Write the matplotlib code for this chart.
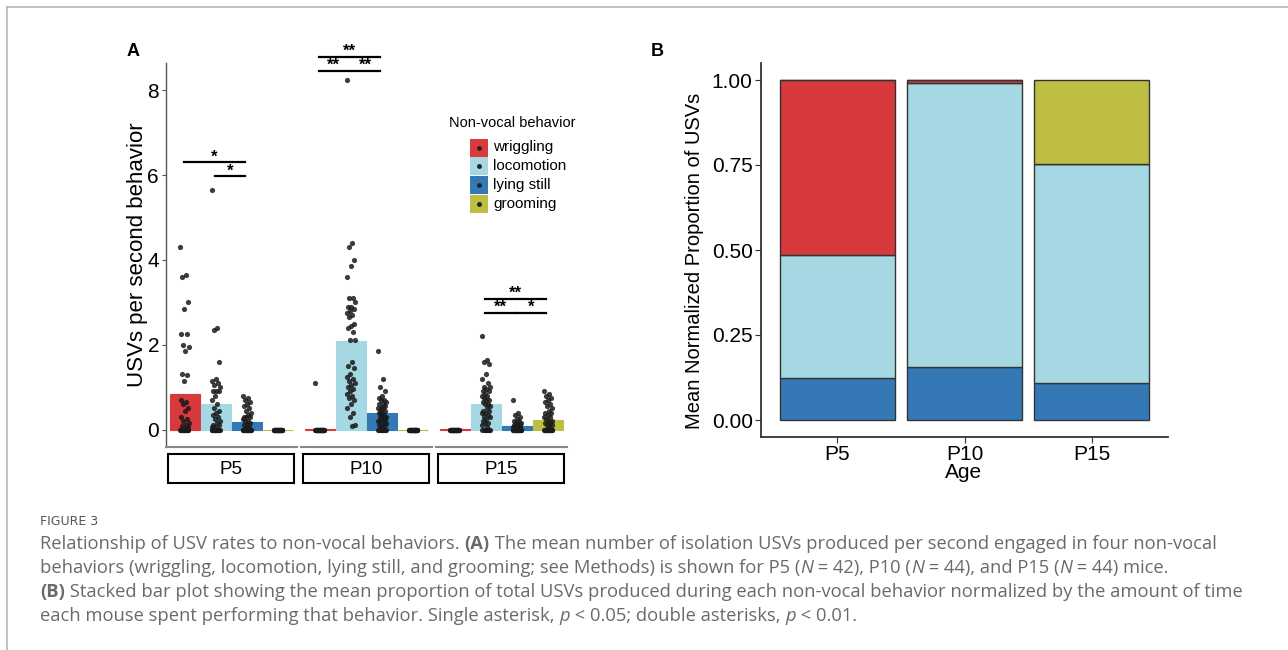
import matplotlib.pyplot as plt
import numpy as np
from matplotlib.patches import Rectangle
from matplotlib.lines import Line2D
from matplotlib.transforms import IdentityTransform

plt.rcParams['font.family'] = ['Liberation Sans', 'DejaVu Sans']

W, H = 1288, 650

ages = ['P5', 'P10', 'P15']
behaviors = ['wriggling', 'locomotion', 'lying still', 'grooming']
colors = ['#D7393D', '#A6D8E4', '#3479B5', '#BDBE43']

# panel A: mean USVs per second of behavior (order: wriggling, locomotion, lying still, grooming)
rate_p5 = [0.85, 0.60, 0.19, 0.0]
rate_p10 = [0.025, 2.08, 0.38, 0.0]
rate_p15 = [0.005, 0.60, 0.08, 0.22]

# individual mice
p5_wriggling = [4.3, 3.65, 3.6, 3.0, 2.85, 2.25, 2.25, 2.0, 1.95, 1.85, 1.3, 1.28, 1.15,
                0.7, 0.65, 0.6, 0.5, 0.45, 0.3, 0.25, 0.2, 0.15, 0.1, 0.08, 0.05] + [0] * 17
p5_locomotion = [5.65, 2.4, 2.35, 1.6, 1.2, 1.15, 1.1, 1.05, 1.0, 0.9, 0.9, 0.9, 0.8, 0.7,
                 0.6, 0.5, 0.45, 0.4, 0.35, 0.3, 0.25, 0.2, 0.15, 0.1, 0.1, 0.05, 0.05] + [0] * 15
p5_lying = [0.8, 0.75, 0.7, 0.65, 0.6, 0.55, 0.5, 0.45, 0.4, 0.35, 0.3, 0.3, 0.3, 0.25,
            0.2, 0.2, 0.15, 0.1, 0.1, 0.05, 0.05] + [0] * 21
p5_grooming = [0] * 42

p10_wriggling = [1.1] + [0] * 43
p10_locomotion = [8.23, 4.4, 4.3, 4.0, 3.85, 3.6, 3.1, 3.1, 3.0, 2.9, 2.9, 2.85, 2.8, 2.75,
                  2.7, 2.65, 2.5, 2.45, 2.4, 2.3, 2.1, 2.1, 1.6, 1.5, 1.45, 1.3, 1.25, 1.2,
                  1.15, 1.1, 1.05, 1.0, 0.95, 0.9, 0.85, 0.8, 0.75, 0.7, 0.6, 0.5, 0.4, 0.3,
                  0.1, 0.08]
p10_lying = [1.85, 1.2, 1.0, 0.9, 0.8, 0.75, 0.7, 0.7, 0.65, 0.6, 0.6, 0.55, 0.5, 0.5, 0.5,
             0.45, 0.45, 0.4, 0.4, 0.35, 0.35, 0.3, 0.3, 0.3, 0.25, 0.25, 0.2, 0.2, 0.2,
             0.15, 0.1, 0.1, 0.1, 0.05] + [0] * 10
p10_grooming = [0] * 44

p15_wriggling = [0] * 44
p15_locomotion = [2.2, 1.65, 1.6, 1.55, 1.3, 1.2, 1.1, 1.0, 1.0, 0.95, 0.9, 0.9, 0.85, 0.8,
                  0.8, 0.75, 0.7, 0.7, 0.65, 0.6, 0.6, 0.55, 0.5, 0.45, 0.45, 0.4, 0.4,
                  0.35, 0.3, 0.3, 0.25, 0.2, 0.15, 0.15, 0.1, 0.05] + [0] * 8
p15_lying = [0.7, 0.4, 0.35, 0.3, 0.25, 0.2, 0.2, 0.15, 0.15, 0.1, 0.1, 0.1, 0.1,
             0.05, 0.05, 0.05, 0.05, 0.05] + [0] * 26
p15_grooming = [0.9, 0.85, 0.8, 0.75, 0.7, 0.65, 0.6, 0.55, 0.5, 0.45, 0.4, 0.4, 0.35, 0.3,
                0.3, 0.25, 0.2, 0.2, 0.15, 0.15, 0.1, 0.1, 0.05] + [0] * 21

# significance brackets: (from behavior #, to behavior #, height, label)
sig_p5 = [(1, 3, 6.3, '*'), (2, 3, 5.97, '*')]
sig_p10 = [(1, 3, 8.78, '**'), (1, 2, 8.45, '**'), (2, 3, 8.45, '**')]
sig_p15 = [(2, 4, 3.08, '**'), (2, 3, 2.75, '**'), (3, 4, 2.75, '*')]

# panel B: mean normalized proportion of USVs
prop_wriggling = [0.515, 0.009, 0.0]
prop_locomotion = [0.36, 0.836, 0.645]
prop_lying = [0.125, 0.155, 0.108]
prop_grooming = [0.0, 0.0, 0.247]

rates = [rate_p5, rate_p10, rate_p15]
dots = [[p5_wriggling, p5_locomotion, p5_lying, p5_grooming],
        [p10_wriggling, p10_locomotion, p10_lying, p10_grooming],
        [p15_wriggling, p15_locomotion, p15_lying, p15_grooming]]
sigs = [sig_p5, sig_p10, sig_p15]


def box(l, t, r, b):
    return [l / W, 1 - b / H, (r - l) / W, (b - t) / H]


fig = plt.figure(figsize=(W / 100, H / 100), dpi=100)

# ---- panel A: three facets
xpos = np.arange(1, 5)
for k, left in enumerate([166, 301, 436]):
    ax = fig.add_axes(box(left, 63, left + 131, 447))
    ax.bar(xpos, rates[k], width=0.95, color=colors, edgecolor=colors, linewidth=0.8, zorder=1)
    for j, vals in enumerate(dots[k]):
        vals = np.array(vals)
        jit = ((np.arange(len(vals)) * 0.618034) % 1 - 0.5) * 0.28
        ax.scatter(xpos[j] + jit, vals, s=14, color='#1a1a1a', alpha=0.85, lw=0, zorder=3)
    for a, b, yv, lab in sigs[k]:
        ax.plot([a - 0.02, b - 0.08], [yv, yv], color='black', lw=1.6, clip_on=False, zorder=4)
        ax.text((a + b) / 2 - 0.05, yv - 0.05, lab, ha='center', va='bottom', fontsize=12,
                fontweight='bold', clip_on=False)
    ax.set_xlim(0.4, 4.6)
    ax.set_ylim(-0.41, 8.64)
    ax.set_xticks([])
    for s in ['top', 'right']:
        ax.spines[s].set_visible(False)
    ax.spines['bottom'].set_color('#888888')
    ax.spines['bottom'].set_linewidth(1.5)
    if k == 0:
        ax.spines['left'].set_color('#555555')
        ax.spines['left'].set_linewidth(1.0)
        ax.set_yticks([0, 2, 4, 6, 8])
        ax.tick_params(axis='y', labelsize=15, length=3, color='#555555', pad=2)
    else:
        ax.spines['left'].set_visible(False)
        ax.set_yticks([])
    ax.patch.set_alpha(0)
    # facet strip below
    fig.patches.append(Rectangle(((left + 2) / W, 1 - 483 / H), 126 / W, 29 / H,
                                 transform=fig.transFigure, facecolor='white',
                                 edgecolor='black', lw=1.5))
    fig.text((left + 65) / W, 1 - 469 / H, ages[k], ha='center', va='center', fontsize=13.5)

fig.text(137 / W, 1 - 255 / H, 'USVs per second behavior', rotation=90, ha='center',
         va='center', fontsize=16)
fig.text(133 / W, 1 - 52 / H, 'A', ha='center', va='center', fontsize=13, fontweight='bold')

# legend
fig.text(512 / W, 1 - 123 / H, 'Non-vocal behavior', ha='center', va='center', fontsize=10.5)
for i, (name, c) in enumerate(zip(behaviors, colors)):
    cy = 147.5 + i * 18.8
    fig.patches.append(Rectangle((470 / W, 1 - (cy + 9) / H), 18 / W, 18 / H,
                                 transform=fig.transFigure, facecolor=c, edgecolor='none'))
    fig.add_artist(Line2D([479 / W], [1 - cy / H], marker='o', markersize=2.5,
                          color='#222222', transform=fig.transFigure))
    fig.text(493 / W, 1 - cy / H, name, ha='left', va='center', fontsize=11)

# ---- panel B: stacked proportions
axb = fig.add_axes(box(761, 63, 1168, 437))
xb = np.arange(1, 4)
bottom = np.zeros(3)
for vals, c in [(prop_lying, colors[2]), (prop_locomotion, colors[1]),
                (prop_wriggling, colors[0]), (prop_grooming, colors[3])]:
    axb.bar(xb, vals, width=0.9, bottom=bottom, color=c, edgecolor='#333333', lw=1.0)
    bottom = bottom + np.array(vals)
axb.set_xlim(0.4, 3.6)
axb.set_ylim(-0.05, 1.05)
axb.set_yticks([0, 0.25, 0.5, 0.75, 1.0])
axb.set_yticklabels(['0.00', '0.25', '0.50', '0.75', '1.00'])
axb.set_xticks(xb)
axb.set_xticklabels(ages)
axb.tick_params(labelsize=15, length=4, color='#333333', pad=2)
for s in ['top', 'right']:
    axb.spines[s].set_visible(False)
for s in ['left', 'bottom']:
    axb.spines[s].set_color('#333333')
    axb.spines[s].set_linewidth(1.3)
fig.text(964 / W, 1 - 472 / H, 'Age', ha='center', va='center', fontsize=15)
fig.text(695 / W, 1 - 261 / H, 'Mean Normalized Proportion of USVs', rotation=90,
         ha='center', va='center', fontsize=14.5)
fig.text(657 / W, 1 - 52 / H, 'B', ha='center', va='center', fontsize=13, fontweight='bold')

# ---- card border and caption
fig.add_artist(Line2D([7 / W, 1], [1 - 7 / H, 1 - 7 / H], color='#b5b5b5', lw=1.2,
                      transform=fig.transFigure))
fig.add_artist(Line2D([7 / W, 7 / W], [0, 1 - 7 / H], color='#b5b5b5', lw=1.2,
                      transform=fig.transFigure))

fig.text(40 / W, 1 - 525 / H, 'FIGURE 3', ha='left', va='baseline', fontsize=9,
         color='#555555', family=['Liberation Sans Narrow', 'DejaVu Sans'])

renderer = fig.canvas.get_renderer()
cap_kw = dict(fontsize=11.5, color='#6a6a6a', family=['Open Sans', 'DejaVu Sans'])


def run_width(s, **kw):
    t1 = fig.text(0, 0, '|' + s + '|', **kw)
    t2 = fig.text(0, 0, '||', **kw)
    w = t1.get_window_extent(renderer).width - t2.get_window_extent(renderer).width
    t1.remove()
    t2.remove()
    return w


def style_kw(style):
    kw = dict(cap_kw)
    if style == 'b':
        kw['fontweight'] = 'bold'
    elif style == 'i':
        kw['fontstyle'] = 'italic'
    return kw


def line_width(runs):
    return sum(run_width(s, **style_kw(st)) for s, st in runs)


def draw_runs(x, y, runs):
    for s, style in runs:
        kw = style_kw(style)
        fig.text(x, H - y, s, transform=IdentityTransform(), ha='left', va='baseline', **kw)
        x += run_width(s, **kw)


lines = [
    [('Relationship of USV rates to non-vocal behaviors. ', ''), ('(A)', 'b'),
     (' The mean number of isolation USVs produced per second engaged in four non-vocal', '')],
    [('behaviors (wriggling, locomotion, lying still, and grooming; see Methods) is shown for P5 (', ''),
     ('N', 'i'), (' = 42), P10 (', ''), ('N', 'i'), (' = 44), and P15 (', ''), ('N', 'i'),
     (' = 44) mice.', '')],
    [('(B)', 'b'), (' Stacked bar plot showing the mean proportion of total USVs produced during each '
                    'non-vocal behavior normalized by the amount of time', '')],
    [('each mouse spent performing that behavior. Single asterisk, ', ''), ('p', 'i'),
     (' < 0.05; double asterisks, ', ''), ('p', 'i'), (' < 0.01.', '')],
]
# size the caption so the first line spans the same width as in the figure
cap_kw['fontsize'] = 11.5 * 1180 / line_width(lines[0])
for i, runs in enumerate(lines):
    draw_runs(40, 549 + 24 * i, runs)

fig.savefig('out.png', dpi=100)
